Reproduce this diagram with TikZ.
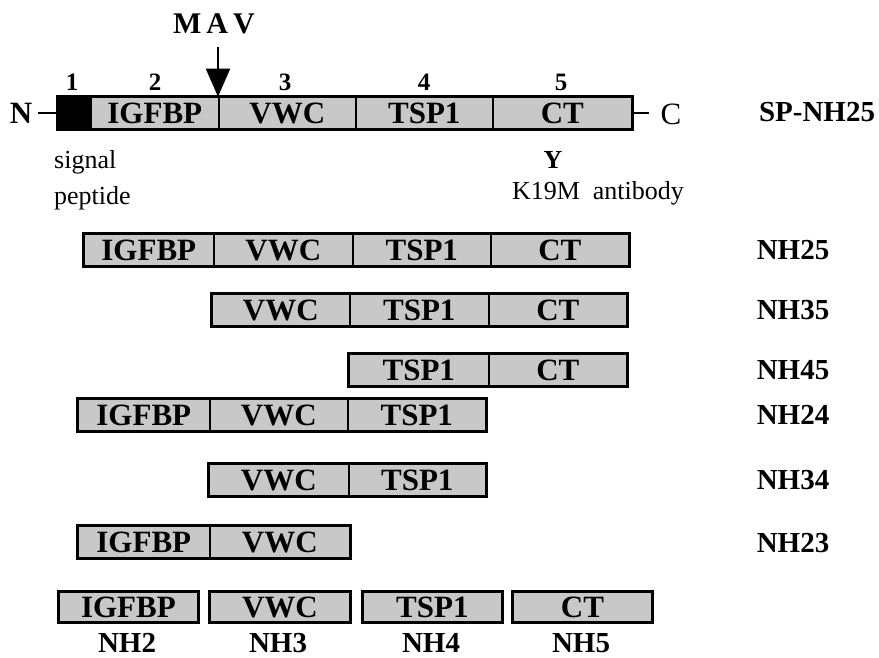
\documentclass[tikz,border=0pt]{standalone}
\usepackage{fontspec}
\setmainfont{Liberation Serif}
\usetikzlibrary{arrows.meta}
\definecolor{boxgray}{RGB}{200,200,200}
\begin{document}
\begin{tikzpicture}[x=1pt,y=-1pt,
  seg/.style={draw, fill=boxgray, line width=1.6pt, minimum height=31pt, inner sep=0pt, anchor=west,
     font=\fontsize{31}{31}\selectfont\bfseries},
  outer/.style={line width=2.8pt},
  lab/.style={font=\fontsize{29}{29}\selectfont\bfseries, inner sep=0pt},
  botlab/.style={lab, anchor=base, text depth=0pt},
  num/.style={font=\fontsize{25}{25}\selectfont\bfseries, inner sep=0pt},
  small/.style={font=\fontsize{26}{26}\selectfont, inner sep=0pt}]
\useasboundingbox (0,0) rectangle (879,657);
% --- SP-NH25 ---
\node[seg, fill=black, minimum width=33pt] (a1) at (57,113) {};
\node[seg, minimum width=128pt] (a2) at (90,113) {IGFBP};
\node[seg, minimum width=137pt] (a3) at (218,113) {VWC};
\node[seg, minimum width=137pt] (a4) at (355,113) {TSP1};
\node[seg, minimum width=139pt] (a5) at (492,113) {CT};
\draw[outer] (a1.north west) rectangle (a5.south east);
\node[font=\fontsize{31}{31}\selectfont\bfseries, inner sep=0pt] (nterm) at (21,113) {N};
\coordinate (nl) at (38,113);
\draw[line width=1.6pt] (nl) -- (a1.west);
\coordinate (cl) at (649,113);
\draw[line width=1.6pt] (a5.east) -- (cl);
\node[font=\fontsize{31}{31}\selectfont, inner sep=0pt] (cterm) at (671,114) {C};
\node[lab] (lsp) at (817,112) {SP-NH25};
\node[num] (n1) at (72,82) {1};
\node[num] (n2) at (155,82) {2};
\node[num] (n3) at (285,82) {3};
\node[num] (n4) at (424,82) {4};
\node[num] (n5) at (561,82) {5};
\node[font=\fontsize{30}{30}\selectfont\bfseries, inner sep=0pt] (mav) at (214,24) {M\,A\,V};
\coordinate (mavs) at (218,47);
\draw[line width=2pt, -{Triangle[width=24pt,length=28pt]}] (mavs) -- (a3.north west);
\node[small, anchor=west] (sig) at (54,162) {signal};
\node[small, anchor=west] (pep) at (54,198) {peptide};
\node[font=\fontsize{26}{26}\selectfont\bfseries, inner sep=0pt] (yy) at (553,160) {Y};
\node[small] (k19) at (598,193) {K19M~ antibody};
% --- NH25 ---
\node[seg, minimum width=130pt] (b2) at (83,250) {IGFBP};
\node[seg, minimum width=139pt] (b3) at (213,250) {VWC};
\node[seg, minimum width=138pt] (b4) at (352,250) {TSP1};
\node[seg, minimum width=138pt] (b5) at (490,250) {CT};
\draw[outer] (b2.north west) rectangle (b5.south east);
\node[lab] (lb) at (793,250) {NH25};
% --- NH35 ---
\node[seg, minimum width=138pt] (c3) at (211,310) {VWC};
\node[seg, minimum width=139pt] (c4) at (349,310) {TSP1};
\node[seg, minimum width=138pt] (c5) at (488,310) {CT};
\draw[outer] (c3.north west) rectangle (c5.south east);
\node[lab] (lc) at (793,310) {NH35};
% --- NH45 ---
\node[seg, minimum width=140pt] (d4) at (348,370) {TSP1};
\node[seg, minimum width=138pt] (d5) at (488,370) {CT};
\draw[outer] (d4.north west) rectangle (d5.south east);
\node[lab] (ld) at (793,370) {NH45};
% --- NH24 ---
\node[seg, minimum width=132pt] (e2) at (77,415) {IGFBP};
\node[seg, minimum width=138pt] (e3) at (209,415) {VWC};
\node[seg, minimum width=138pt] (e4) at (347,415) {TSP1};
\draw[outer] (e2.north west) rectangle (e4.south east);
\node[lab] (le) at (793,415) {NH24};
% --- NH34 ---
\node[seg, minimum width=140pt] (f3) at (208,480) {VWC};
\node[seg, minimum width=137pt] (f4) at (348,480) {TSP1};
\draw[outer] (f3.north west) rectangle (f4.south east);
\node[lab] (lf) at (793,480) {NH34};
% --- NH23 ---
\node[seg, minimum width=132pt] (g2) at (77,542) {IGFBP};
\node[seg, minimum width=140pt] (g3) at (209,542) {VWC};
\draw[outer] (g2.north west) rectangle (g3.south east);
\node[lab] (lg) at (793,543) {NH23};
% --- single domains ---
\node[seg, line width=2.8pt, minimum width=140pt] (h2) at (57,607) {IGFBP};
\node[seg, line width=2.8pt, minimum width=141pt] (h3) at (208,607) {VWC};
\node[seg, line width=2.8pt, minimum width=140pt] (h4) at (361,607) {TSP1};
\node[seg, line width=2.8pt, minimum width=140pt] (h5) at (511,607) {CT};
\node[botlab] (lh2) at (127,652) {NH2};
\node[botlab] (lh3) at (278,652) {NH3};
\node[botlab] (lh4) at (431,652) {NH4};
\node[botlab] (lh5) at (581,652) {NH5};
\end{tikzpicture}
\end{document}
